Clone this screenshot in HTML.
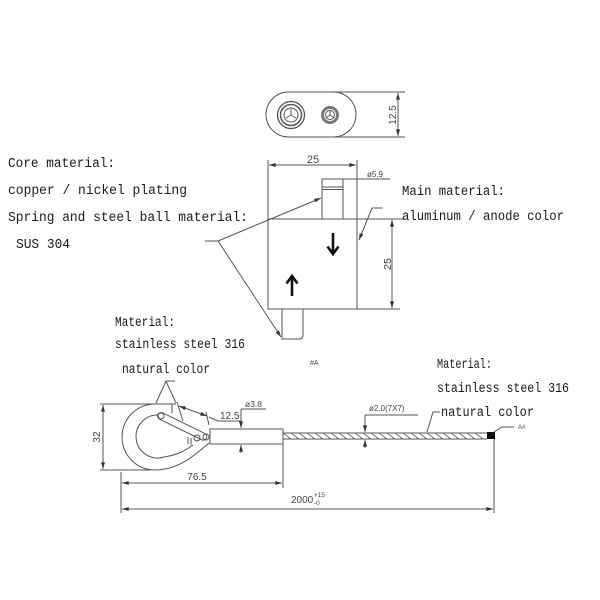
<!DOCTYPE html>
<html><head><meta charset="utf-8"><style>
html,body{margin:0;padding:0;background:#fff;}
svg{display:block;}
.t{font-family:"Liberation Mono",monospace;fill:#1a1a1a;font-size:13.5px;}
.d{font-family:"Liberation Sans",sans-serif;fill:#444;}
</style></head><body>
<svg width="600" height="600" viewBox="0 0 600 600" xmlns="http://www.w3.org/2000/svg">
<defs>
<marker id="a" viewBox="0 0 10 6" refX="10" refY="3" markerWidth="8" markerHeight="4" markerUnits="userSpaceOnUse" orient="auto-start-reverse">
<path d="M0 0 L10 3 L0 6 Z" fill="#333"/></marker>
</defs>
<g fill="none" stroke="#555" stroke-width="1">
<!-- TOP VIEW -->
<path d="M288.5 92 H333.5 A22.5 22.5 0 0 1 333.5 137 H288.5 A22.5 22.5 0 0 1 288.5 92 Z"/>
<line x1="333" y1="92" x2="405" y2="92"/>
<line x1="333" y1="137" x2="405" y2="137"/>
<line x1="398" y1="93" x2="398" y2="136" marker-start="url(#a)" marker-end="url(#a)"/>
<circle cx="291" cy="115" r="13.5" stroke-width="1.3"/>
<circle cx="291" cy="115" r="10.5" stroke-width="1.5"/>
<circle cx="291" cy="115" r="7"/>
<path d="M291 115 V109 M291 115 L286 118 M291 115 L296 118"/>
<circle cx="330" cy="115" r="7.5" stroke="#777" stroke-width="3"/>
<circle cx="330" cy="115" r="4.5"/>
<path d="M330 115 V111 M330 115 L326.5 117.5 M330 115 L333.5 117.5"/>

<!-- FRONT VIEW -->
<rect x="268" y="219" width="89" height="90"/>
<rect x="322" y="179" width="21" height="40"/>
<line x1="322" y1="187" x2="343" y2="187"/>
<line x1="322" y1="189.5" x2="343" y2="189.5"/>
<path d="M282 309 V339 H299 Q303 339 303 335 V309"/>
<line x1="268" y1="160" x2="268" y2="219"/>
<line x1="357" y1="160" x2="357" y2="219"/>
<line x1="269" y1="165" x2="356" y2="165" marker-start="url(#a)" marker-end="url(#a)"/>
<line x1="343" y1="179" x2="390" y2="179"/>
<line x1="323" y1="179" x2="342" y2="179"/>
<line x1="357" y1="219" x2="405" y2="219"/>
<line x1="357" y1="309" x2="400" y2="309"/>
<line x1="392" y1="220" x2="392" y2="308" marker-start="url(#a)" marker-end="url(#a)"/>
<!-- leaders -->
<line x1="205" y1="241" x2="218" y2="241"/>
<line x1="218" y1="241" x2="321" y2="198" marker-end="url(#a)"/>
<line x1="218" y1="241" x2="281" y2="337" marker-end="url(#a)"/>
<path d="M382 208 H372 L359 240" marker-end="url(#a)"/>
</g>
<!-- thick arrows -->
<g stroke="#111" stroke-width="2.6" fill="none" stroke-linecap="butt">
<line x1="333" y1="233" x2="333" y2="253"/>
<path d="M327.5 246.5 L333 254 L338.5 246.5"/>
<line x1="292" y1="296" x2="292" y2="277"/>
<path d="M286.5 283.5 L292 276 L297.5 283.5"/>
</g>

<!-- HOOK ASSEMBLY -->
<g fill="none" stroke="#555" stroke-width="1">
<!-- outer hook -->
<path d="M176 404 H155 A33 33 0 0 0 155 470 C178 470 194 456 209 443"/>
<line x1="172" y1="404" x2="172" y2="413"/>
<!-- inner teardrop -->
<path d="M158 415 A21.5 21.5 0 1 0 164 457 C178 455 186 450 193 445"/>
<!-- latch -->
<g transform="translate(161 416) rotate(26)">
<rect x="-3.5" y="-3.5" width="54" height="7" rx="3.5"/>
</g>
<circle cx="161" cy="416" r="3"/>
<circle cx="197" cy="438" r="3"/>
<circle cx="206" cy="437" r="3"/>
<path d="M188 437 V444 M191 438 V445"/>
<!-- sleeve -->
<rect x="210" y="429" width="73" height="15"/>
<!-- cable -->
<line x1="283" y1="433" x2="487" y2="433"/>
<line x1="283" y1="439" x2="487" y2="439"/>
<!-- dims -->
<line x1="100" y1="404" x2="176" y2="404"/>
<line x1="100" y1="470" x2="150" y2="470"/>
<line x1="103" y1="405" x2="103" y2="469" marker-start="url(#a)" marker-end="url(#a)"/>
<line x1="121" y1="472" x2="121" y2="513"/>
<line x1="283" y1="444" x2="283" y2="488"/>
<line x1="494" y1="437" x2="494" y2="513"/>
<line x1="122" y1="483" x2="282" y2="483" marker-start="url(#a)" marker-end="url(#a)"/>
<line x1="122" y1="509" x2="493" y2="509" marker-start="url(#a)" marker-end="url(#a)"/>
<!-- 12.5 oblique -->
<line x1="177" y1="402" x2="183" y2="421"/>
<line x1="179" y1="406" x2="207" y2="416" marker-start="url(#a)" marker-end="url(#a)"/>
<path d="M206 412 L209 425 M209 417 L218 421 H241"/>
<!-- 3.8 -->
<path d="M241 409 H266"/>
<line x1="241" y1="409" x2="241" y2="428" marker-end="url(#a)"/>
<line x1="241" y1="453" x2="241" y2="445" marker-end="url(#a)"/>
<!-- 2.0 -->
<path d="M365 415 H418"/>
<line x1="365" y1="415" x2="365" y2="432" marker-end="url(#a)"/>
<line x1="365" y1="448" x2="365" y2="440" marker-end="url(#a)"/>
<!-- natural color leaders -->
<path d="M175 381 H166 L156 403 M166 381 L176 403"/>
<path d="M440 412 H433 L427 432"/>
<path d="M494 432 L502 427 H514"/>
</g>
<!-- cable hatch -->
<g stroke="#666" stroke-width="0.9">
<path d="M283 433 L291 439 M291 433 L299 439 M299 433 L307 439 M307 433 L315 439 M315 433 L323 439 M323 433 L331 439 M331 433 L339 439 M339 433 L347 439 M347 433 L355 439 M355 433 L363 439 M363 433 L371 439 M371 433 L379 439 M379 433 L387 439 M387 433 L395 439 M395 433 L403 439 M403 433 L411 439 M411 433 L419 439 M419 433 L427 439 M427 433 L435 439 M435 433 L443 439 M443 433 L451 439 M451 433 L459 439 M459 433 L467 439 M467 433 L475 439 M475 433 L483 439"/>
</g>
<rect x="487" y="432" width="8" height="7" fill="#111"/>

<!-- DIM TEXT -->
<text class="d" font-size="11" x="313" y="163" text-anchor="middle">25</text>
<text class="d" font-size="10" transform="translate(396 115) rotate(-90)" text-anchor="middle">12.5</text>
<text class="d" font-size="8" x="367" y="177">ø5.9</text>
<text class="d" font-size="10.5" transform="translate(391 264) rotate(-90)" text-anchor="middle">25</text>
<text class="d" font-size="7" x="310" y="365">#A</text>
<text class="d" font-size="10" x="220" y="419">12.5</text>
<text class="d" font-size="8.5" x="245" y="407">ø3.8</text>
<text class="d" font-size="8" x="369" y="411">ø2.0(7X7)</text>
<text class="d" font-size="6" x="518" y="429">A#</text>
<text class="d" font-size="10" transform="translate(100 437) rotate(-90)" text-anchor="middle">32</text>
<text class="d" font-size="10" x="197" y="480" text-anchor="middle">76.5</text>
<text class="d" font-size="10" x="291" y="503">2000</text>
<text class="d" font-size="6.5" x="314" y="497">+15</text>
<text class="d" font-size="6.5" x="314" y="505">-0</text>

<!-- LABEL TEXT -->
<text class="t" x="8" y="167" textLength="107" lengthAdjust="spacingAndGlyphs">Core material:</text>
<text class="t" x="8" y="194" textLength="179" lengthAdjust="spacingAndGlyphs">copper / nickel plating</text>
<text class="t" x="8" y="221" textLength="240" lengthAdjust="spacingAndGlyphs">Spring and steel ball material:</text>
<text class="t" x="16" y="248" textLength="54" lengthAdjust="spacingAndGlyphs">SUS 304</text>
<text class="t" x="402" y="195" textLength="103" lengthAdjust="spacingAndGlyphs">Main material:</text>
<text class="t" x="402" y="220" textLength="162" lengthAdjust="spacingAndGlyphs">aluminum / anode color</text>
<text class="t" x="115" y="326" textLength="60" lengthAdjust="spacingAndGlyphs">Material:</text>
<text class="t" x="115" y="348" textLength="130" lengthAdjust="spacingAndGlyphs">stainless steel 316</text>
<text class="t" x="122" y="373" textLength="88" lengthAdjust="spacingAndGlyphs">natural color</text>
<text class="t" x="437" y="368" textLength="55" lengthAdjust="spacingAndGlyphs">Material:</text>
<text class="t" x="437" y="392" textLength="132" lengthAdjust="spacingAndGlyphs">stainless steel 316</text>
<text class="t" x="441" y="416" textLength="93" lengthAdjust="spacingAndGlyphs">natural color</text>
</svg>
</body></html>
